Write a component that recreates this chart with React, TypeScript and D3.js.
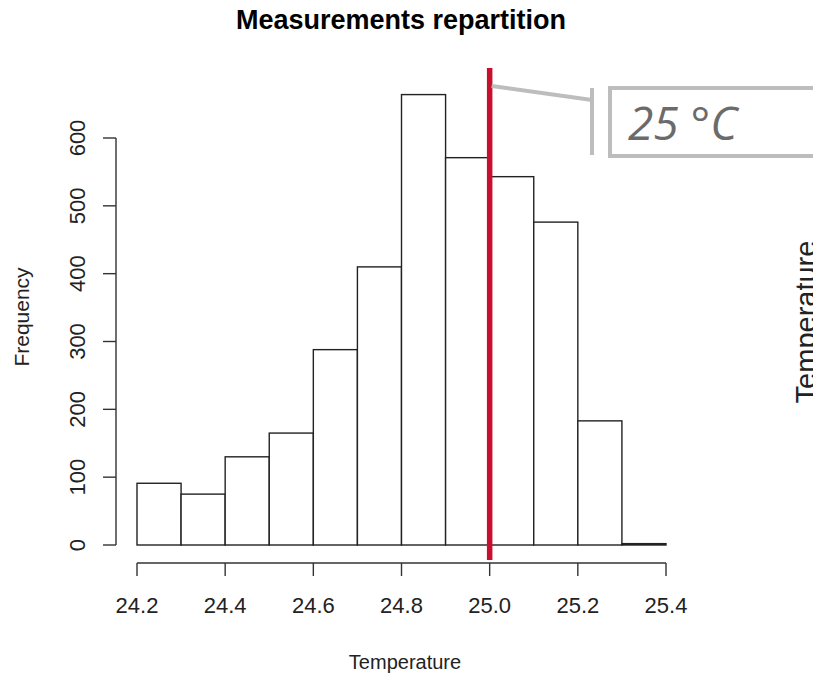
import React from 'react';
import * as d3 from 'd3';

// histogram bins (Temperature) and counts
const binStarts = [24.2, 24.3, 24.4, 24.5, 24.6, 24.7, 24.8, 24.9, 25.0, 25.1, 25.2, 25.3];
const counts = [91, 75, 130, 165, 288, 410, 664, 571, 543, 476, 183, 2];
const xTicks = [24.2, 24.4, 24.6, 24.8, 25.0, 25.2, 25.4];
const yTicks = [0, 100, 200, 300, 400, 500, 600];
const refValue = 25.0;
const refLabel = '25 \u00B0C';

const W = 813;
const H = 675;
const font = '"Liberation Sans", Arial, sans-serif';

export default function App() {
  const x = d3.scaleLinear().domain([24.2, 25.4]).range([137, 666]);
  const y = d3.scaleLinear().domain([0, 600]).range([545, 138]);
  const axisY = 563;
  const axisX = 116;
  const refX = x(refValue);

  return (
    <svg width={W} height={H} style={{ position: 'absolute', left: 0, top: 0, background: '#fff' }}>
      <text x={401} y={29} textAnchor="middle" fontFamily={font} fontWeight="bold" fontSize={27} fill="#000">
        Measurements repartition
      </text>

      {/* bars */}
      {binStarts.map((b, i) => (
        <rect
          key={b}
          x={x(b)}
          y={y(counts[i])}
          width={x(b + 0.1) - x(b)}
          height={y(0) - y(counts[i])}
          fill="#fff"
          stroke="#222"
          strokeWidth={1.4}
        />
      ))}

      {/* x axis */}
      <line x1={x(24.2)} x2={x(25.4)} y1={axisY} y2={axisY} stroke="#333" strokeWidth={1.4} />
      {xTicks.map(t => (
        <g key={t}>
          <line x1={x(t)} x2={x(t)} y1={axisY} y2={axisY + 13} stroke="#333" strokeWidth={1.4} />
          <text x={x(t)} y={613} textAnchor="middle" fontFamily={font} fontSize={22} fill="#222">
            {d3.format('.1f')(t)}
          </text>
        </g>
      ))}
      <text x={405} y={669} textAnchor="middle" fontFamily={font} fontSize={20} fill="#222">
        Temperature
      </text>

      {/* y axis */}
      <line x1={axisX} x2={axisX} y1={y(0)} y2={y(600)} stroke="#333" strokeWidth={1.4} />
      {yTicks.map(t => (
        <g key={t}>
          <line x1={axisX - 13} x2={axisX} y1={y(t)} y2={y(t)} stroke="#333" strokeWidth={1.4} />
          <text
            transform={`translate(85,${y(t)}) rotate(-90)`}
            textAnchor="middle"
            fontFamily={font}
            fontSize={22}
            fill="#222"
          >
            {t}
          </text>
        </g>
      ))}
      <text transform="translate(29,317) rotate(-90)" textAnchor="middle" fontFamily={font} fontSize={21} fill="#222">
        Frequency
      </text>

      {/* reference line */}
      <line x1={refX} x2={refX} y1={68} y2={560} stroke="#c8102e" strokeWidth={5.5} />

      {/* callout */}
      <polyline points={`${refX + 2},86 592,100`} fill="none" stroke="#bdbdbd" strokeWidth={4} />
      <line x1={592} x2={592} y1={88} y2={155} stroke="#bdbdbd" strokeWidth={4} />
      <rect x={610} y={88} width={220} height={68} fill="#fff" stroke="#bdbdbd" strokeWidth={4} />
      <text x={628} y={140} fontFamily='"Open Sans", sans-serif' fontStyle="italic" fontSize={46} fill="#6b6b6b">
        {refLabel}
      </text>

      {/* clipped label from neighbouring panel */}
      <text transform="translate(816,322) rotate(-90)" textAnchor="middle" fontFamily={font} fontSize={29} fill="#222">
        Temperature
      </text>
    </svg>
  );
}
